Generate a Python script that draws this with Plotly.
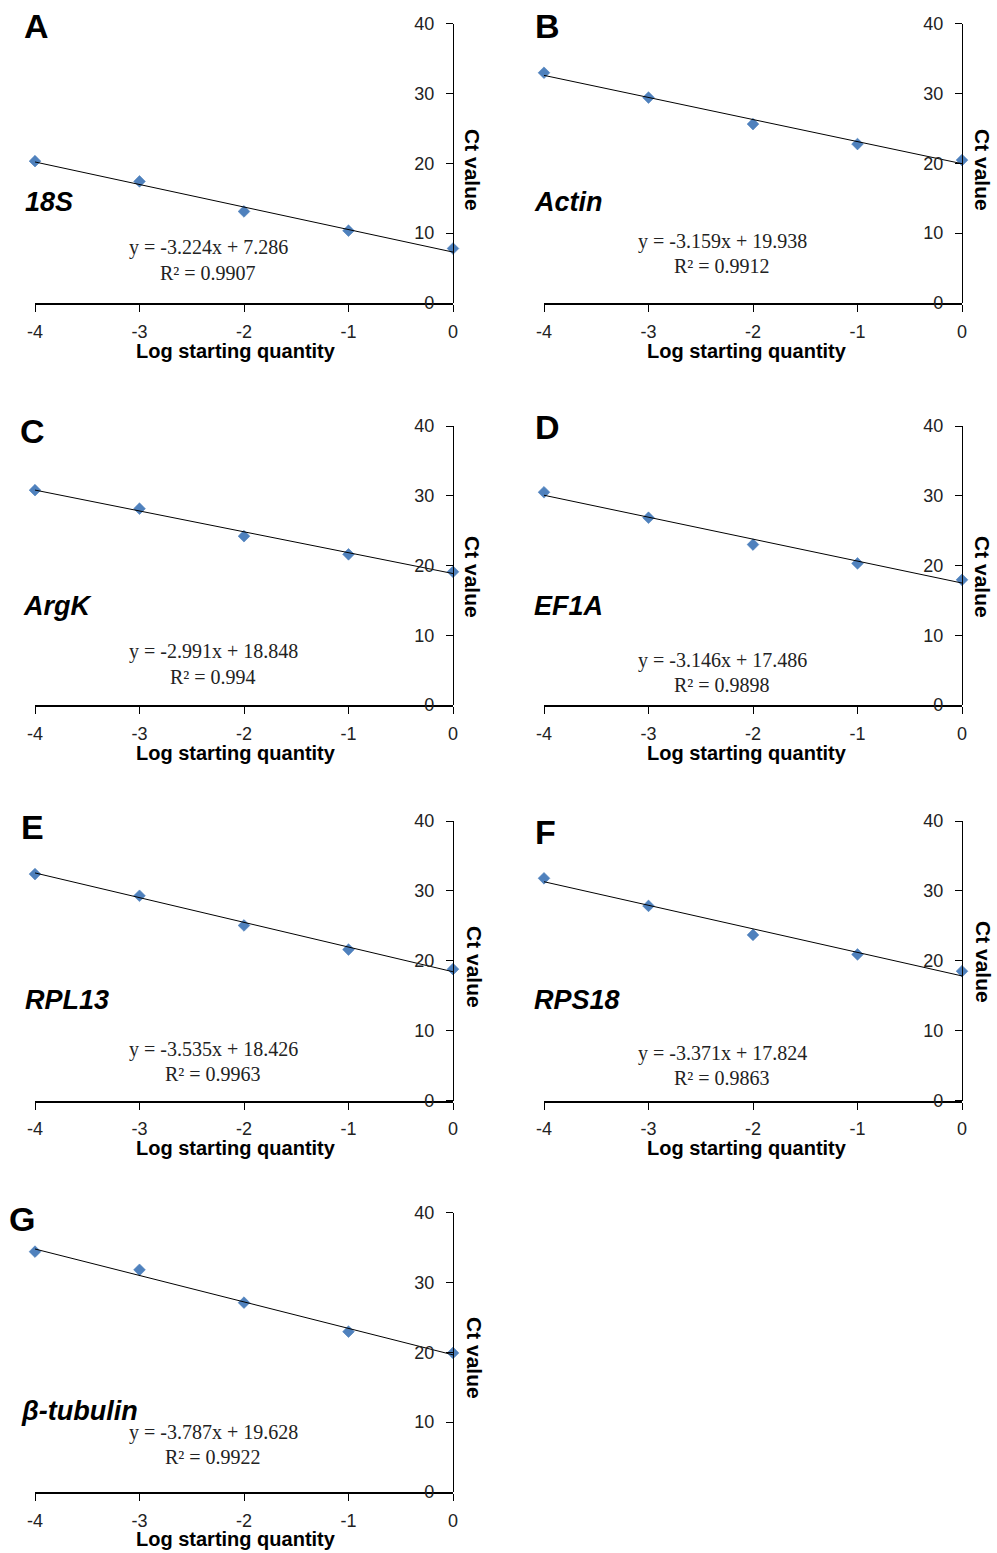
import plotly.graph_objects as go

W, H = 997, 1553

# ---------------- data ----------------
log_qty = [-4, -3, -2, -1, 0]
x_ticks = [-4, -3, -2, -1, 0]
y_ticks = [0, 10, 20, 30, 40]

panel_letters = ["A", "B", "C", "D", "E", "F", "G"]
gene_names = ["18S", "Actin", "ArgK", "EF1A", "RPL13", "RPS18", "β-tubulin"]

ct_18S = [20.3, 17.4, 13.1, 10.35, 7.8]
ct_actin = [32.95, 29.4, 25.6, 22.75, 20.45]
ct_argk = [30.8, 28.15, 24.2, 21.6, 19.1]
ct_ef1a = [30.5, 26.85, 23.0, 20.3, 17.95]
ct_rpl13 = [32.4, 29.3, 25.05, 21.6, 18.8]
ct_rps18 = [31.8, 27.85, 23.7, 20.9, 18.5]
ct_btub = [34.4, 31.8, 27.1, 22.95, 19.9]

slopes = [-3.224, -3.159, -2.991, -3.146, -3.535, -3.371, -3.787]
intercepts = [7.286, 19.938, 18.848, 17.486, 18.426, 17.824, 19.628]
r2_values = ["0.9907", "0.9912", "0.994", "0.9898", "0.9963", "0.9863", "0.9922"]

series = [ct_18S, ct_actin, ct_argk, ct_ef1a, ct_rpl13, ct_rps18, ct_btub]

# ---------------- layout geometry (page pixels) ----------------
# (x_left, x_right, y_top(40), y_bottom(0))
boxes = [
    (35, 453, 23.5, 303),
    (544, 962, 23.5, 303),
    (35, 453, 426, 705),
    (544, 962, 426, 705),
    (35, 453, 821, 1100.5),
    (544, 962, 821, 1100.5),
    (35, 453, 1212.5, 1492),
]
letter_pos = [(36, 26), (547, 26), (32, 431), (547, 427), (32, 827), (545, 832), (22, 1219)]
gene_pos = [(23, 202), (532, 202), (21, 606), (532, 606), (23, 1000), (532, 1000), (19, 1411)]
eq_pos = [(208, 248), (722, 241), (213, 652), (722, 660), (213, 1049), (722, 1053), (213, 1432)]
ct_title_pos = [(473, 170), (983, 170), (473, 577), (983, 577), (475, 967), (983, 962), (475, 1358)]
xt_title_pos = [(236, 351), (747, 351), (236, 753), (747, 753), (236, 1148), (747, 1148), (236, 1539)]

SANS = "Liberation Sans, Arial, sans-serif"
SERIF = "Liberation Serif, Times New Roman, serif"


def px(x):
    return x / W


def py(y):
    return 1 - y / H


fig = go.Figure()
annotations = []
layout = {}

for i, ys in enumerate(series):
    n = i + 1
    xa = "x" if n == 1 else f"x{n}"
    ya = "y" if n == 1 else f"y{n}"
    xl, xr, yt, yb = boxes[i]
    xdom = [px(xl), px(xr)]
    ydom = [py(yb), py(yt)]

    fig.add_trace(go.Scatter(
        x=log_qty, y=ys, mode="markers", xaxis=xa, yaxis=ya,
        marker=dict(symbol="diamond", size=9, color="#4F81BD",
                    line=dict(width=0.6, color="#4A7EBB")),
        cliponaxis=False, showlegend=False, hoverinfo="skip"))
    # linear trendline from fitted slope/intercept
    tx = [log_qty[0], log_qty[-1]]
    ty = [slopes[i] * v + intercepts[i] for v in tx]
    fig.add_trace(go.Scatter(
        x=tx, y=ty, mode="lines", xaxis=xa, yaxis=ya,
        line=dict(color="#000000", width=1),
        cliponaxis=False, showlegend=False, hoverinfo="skip"))

    xkey = "xaxis" if n == 1 else f"xaxis{n}"
    ykey = "yaxis" if n == 1 else f"yaxis{n}"
    layout[xkey] = dict(
        domain=xdom, anchor=ya, range=[-4, 0], tickvals=x_ticks,
        ticktext=[str(v) for v in x_ticks], automargin=False,
        showgrid=False, zeroline=False, showline=True, linecolor="#000",
        linewidth=2, ticks="outside", ticklen=7, tickwidth=1.3, tickcolor="#000",
        tickfont=dict(family=SANS, size=18, color="#222"),
        ticklabelstandoff=4, fixedrange=True)
    layout[ykey] = dict(
        domain=ydom, anchor="free", position=px(xr), side="left",
        range=[0, 40], tickvals=y_ticks, automargin=False,
        showgrid=False, zeroline=False, showline=True, linecolor="#000",
        linewidth=1.3, ticks="outside", ticklen=7, tickwidth=1.3, tickcolor="#000",
        tickfont=dict(family=SANS, size=18, color="#222"),
        ticklabelstandoff=8, fixedrange=True)

    # panel letter
    lx, ly = letter_pos[i]
    annotations.append(dict(
        text=f"<b>{panel_letters[i]}</b>", xref="paper", yref="paper",
        x=px(lx), y=py(ly), xanchor="center", yanchor="middle", showarrow=False,
        font=dict(family=SANS, size=34, color="#000")))
    # gene name
    gx, gy = gene_pos[i]
    annotations.append(dict(
        text=f"<b><i>{gene_names[i]}</i></b>", xref="paper", yref="paper",
        x=px(gx), y=py(gy), xanchor="left", yanchor="middle", showarrow=False,
        font=dict(family=SANS, size=27, color="#000")))
    # equation
    ex, ey = eq_pos[i]
    eq = f"y = {slopes[i]:.3f}x + {intercepts[i]:.3f}"
    annotations.append(dict(
        text=eq, xref="paper", yref="paper", x=px(ex), y=py(ey),
        xanchor="center", yanchor="middle", showarrow=False,
        font=dict(family=SERIF, size=20, color="#222")))
    annotations.append(dict(
        text=f"R² = {r2_values[i]}", xref="paper", yref="paper", x=px(ex), y=py(ey + 25),
        xanchor="center", yanchor="middle", showarrow=False,
        font=dict(family=SERIF, size=20, color="#222")))
    # Ct value title
    cx, cy = ct_title_pos[i]
    annotations.append(dict(
        text="<b>Ct value</b>", xref="paper", yref="paper", x=px(cx), y=py(cy),
        xanchor="center", yanchor="middle", showarrow=False, textangle=90,
        font=dict(family=SANS, size=21, color="#000")))
    # x title
    tx_, ty_ = xt_title_pos[i]
    annotations.append(dict(
        text="<b>Log starting quantity</b>", xref="paper", yref="paper",
        x=px(tx_), y=py(ty_), xanchor="center", yanchor="middle", showarrow=False,
        font=dict(family=SANS, size=20, color="#000")))

fig.update_layout(
    width=W, height=H, margin=dict(l=0, r=0, t=0, b=0, pad=0, autoexpand=False),
    paper_bgcolor="#fff", plot_bgcolor="#fff",
    annotations=annotations, showlegend=False, **layout)

fig.write_html("out.html", config={"displayModeBar": False})
